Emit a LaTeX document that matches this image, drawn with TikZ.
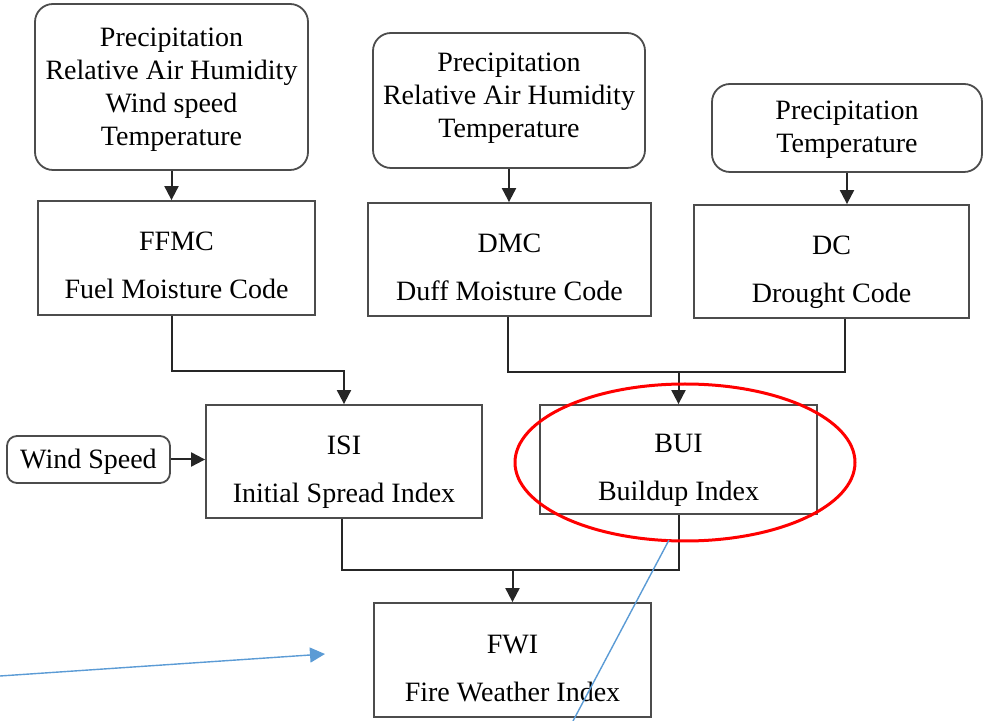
\documentclass[tikz,border=0pt]{standalone}
\usepackage{fontspec}
\setmainfont{Liberation Serif}
\usetikzlibrary{arrows.meta,calc}
\definecolor{noteblue}{HTML}{5B9BD5}
\begin{document}
\begin{tikzpicture}[x=0.5pt,y=-0.5pt,
  box/.style={draw=black!70, line width=0.9pt, inner sep=0pt, align=center,
    text=black, font=\fontsize{14}{16.5}\selectfont},
  twoline/.style={box, text height=42pt, text depth=1pt},
  inbox/.style={box, rounded corners=9pt},
  conn/.style={draw=black!85, line width=1pt},
  arr/.style={conn, -{Triangle[width=7pt,length=7pt]}},
  hl/.style={draw=red, line width=1.5pt},
  note/.style={draw=noteblue, line width=0.7pt}]
\useasboundingbox (0,0) rectangle (986,721);

% input boxes
\node[inbox, minimum width=136.5pt, minimum height=83pt, text height=62pt, text depth=3pt]
  (in1) at (171.5,87) {Precipitation\\Relative Air Humidity\\Wind speed\\Temperature};
\node[inbox, minimum width=136pt, minimum height=67.5pt, text height=40.5pt, text depth=3pt]
  (in2) at (509,100.5) {Precipitation\\Relative Air Humidity\\Temperature};
\node[inbox, minimum width=135pt, minimum height=44pt, text height=28pt, text depth=3pt]
  (in3) at (847,128) {Precipitation\\Temperature};

% code boxes
\node[twoline, minimum width=138.5pt, minimum height=57pt] (ffmc) at (176.5,258) {FFMC\\[7.5pt]Fuel Moisture Code};
\node[twoline, minimum width=141.5pt, minimum height=56.5pt] (dmc) at (509.5,259.5) {DMC\\[7.5pt]Duff Moisture Code};
\node[twoline, minimum width=137.5pt, minimum height=56.5pt] (dc) at (831.5,261.5) {DC\\[7.5pt]Drought Code};
\node[twoline, minimum width=138pt, minimum height=56.5pt] (isi) at (344,461.5) {ISI\\[7.5pt]Initial Spread Index};
\node[twoline, minimum width=138.5pt, minimum height=54.5pt] (bui) at (678.5,459.5) {BUI\\[7.5pt]Buildup Index};
\node[twoline, minimum width=138.5pt, minimum height=57pt] (fwi) at (512.5,660) {FWI\\[7.5pt]Fire Weather Index};
\node[box, rounded corners=5pt, minimum width=81.5pt, minimum height=23.5pt, text height=9.5pt, text depth=0.5pt]
  (wind) at (88.5,459.5) {Wind Speed};

% connectors
\draw[arr] (in1.south) -- (in1.south |- ffmc.north);
\draw[arr] (in2.south) -- (in2.south |- dmc.north);
\draw[arr] (in3.south) -- (in3.south |- dc.north);

\coordinate (j1) at (172,371);
\draw[arr] (ffmc.south -| j1) -- (j1) -| (isi.north);

\coordinate (j2) at (508,372);
\coordinate (j3) at (845,372);
\draw[conn] (dmc.south -| j2) -- (j2) -- (j3) -- (dc.south -| j3);
\draw[arr] (bui.north |- j2) -- (bui.north);

\coordinate (j4) at (342,570);
\coordinate (j5) at (679,570);
\draw[conn] (isi.south -| j4) -- (j4) -- (j5) -- (bui.south -| j5);
\draw[arr] (fwi.north |- j4) -- (fwi.north);

\draw[arr] (wind.east) -- (wind.east -| isi.west);

% annotations
\draw[hl] (685,462.5) ellipse [x radius=85pt, y radius=39.25pt];
\coordinate (b1) at (0,676);
\coordinate (b2) at (325,654);
\draw[note, -{Triangle[width=7.5pt,length=7.5pt]}] (b1) -- (b2);
\coordinate (b3) at (669,540);
\coordinate (b4) at (573,721);
\draw[note] (b3) -- (b4);
\end{tikzpicture}
\end{document}
